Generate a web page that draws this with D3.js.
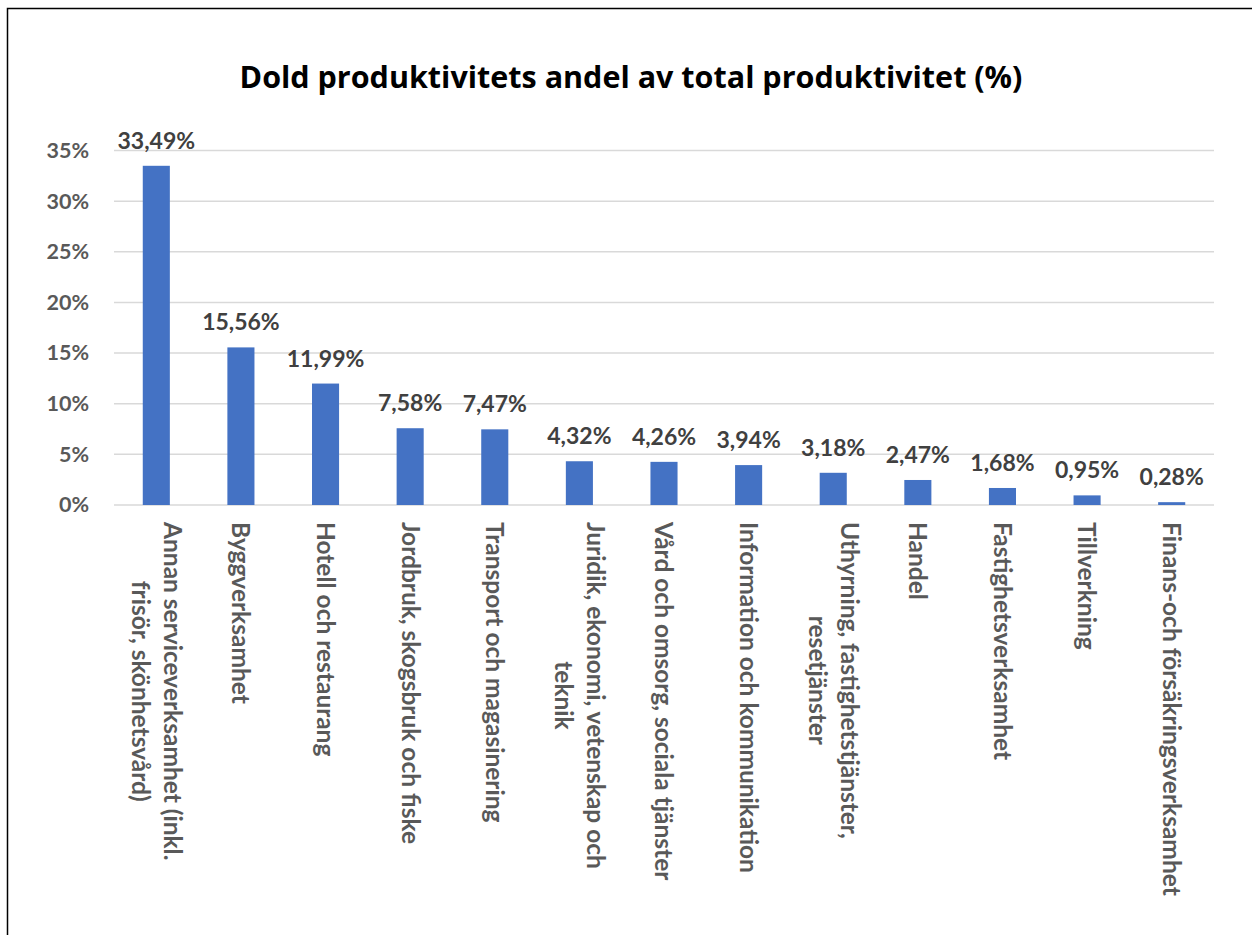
<!DOCTYPE html>
<html>
<head>
<meta charset="utf-8">
<script src="https://cdn.jsdelivr.net/npm/d3@7"></script>
<style>
  html, body { margin: 0; padding: 0; background: #fff; }
  svg { display: block; }
</style>
</head>
<body>
<script>
const categories = [
  ["Annan serviceverksamhet (inkl.", "frisör, skönhetsvård)"],
  ["Byggverksamhet"],
  ["Hotell och restaurang"],
  ["Jordbruk, skogsbruk och fiske"],
  ["Transport och magasinering"],
  ["Juridik, ekonomi, vetenskap och", "teknik"],
  ["Vård och omsorg, sociala tjänster"],
  ["Information och kommunikation"],
  ["Uthyrning, fastighetstjänster,", "resetjänster"],
  ["Handel"],
  ["Fastighetsverksamhet"],
  ["Tillverkning"],
  ["Finans-och försäkringsverksamhet"]
];
const values = [33.49, 15.56, 11.99, 7.58, 7.47, 4.32, 4.26, 3.94, 3.18, 2.47, 1.68, 0.95, 0.28];
const yTicks = [0, 5, 10, 15, 20, 25, 30, 35];
const title = "Dold produktivitets andel av total produktivitet (%)";

const W = 1252, H = 935;
const svg = d3.select("body").append("svg").attr("width", W).attr("height", H);

// outer chart border (extends past the picture on right and bottom)
svg.append("rect").attr("x", 7.5).attr("y", 8.5).attr("width", 1300).attr("height", 1000)
  .attr("fill", "none").attr("stroke", "#000").attr("stroke-width", 1.5);

const plotL = 114, plotR = 1214, plotT = 150.5, plotB = 505;
const x = d3.scaleBand().domain(d3.range(categories.length)).range([plotL, plotR]).paddingInner(0.68).paddingOuter(0.34);
const y = d3.scaleLinear().domain([0, 35]).range([plotB, plotT]);

// title
svg.append("text").attr("x", 631).attr("y", 88).attr("text-anchor", "middle")
  .style("font-family", "'Open Sans', sans-serif").style("font-weight", 700).style("font-size", "30.5px")
  .attr("fill", "#000").text(title);

// gridlines
svg.append("g").selectAll("line").data(yTicks).join("line")
  .attr("x1", plotL).attr("x2", plotR)
  .attr("y1", d => y(d)).attr("y2", d => y(d))
  .attr("stroke", "#d9d9d9").attr("stroke-width", 1.5);

// y axis labels
const yAxis = d3.axisLeft(y).tickValues(yTicks).tickFormat(d => d + "%").tickSize(0).tickPadding(0);
const yg = svg.append("g").attr("transform", `translate(89,0)`).call(yAxis);
yg.select(".domain").remove();
yg.selectAll("text").style("font-family", "Lato, sans-serif").style("font-weight", 700)
  .style("font-size", "21.5px").attr("fill", "#595959");

// bars
svg.append("g").selectAll("rect").data(values).join("rect")
  .attr("x", (d, i) => x(i)).attr("width", x.bandwidth())
  .attr("y", d => y(d)).attr("height", d => plotB - y(d))
  .attr("fill", "#4472c4");

// data labels
svg.append("g").selectAll("text").data(values).join("text")
  .attr("x", (d, i) => x(i) + x.bandwidth() / 2)
  .attr("y", d => y(d) - 17)
  .attr("text-anchor", "middle")
  .style("font-family", "Lato, sans-serif").style("font-weight", 700).style("font-size", "23px")
  .attr("fill", "#404040")
  .text(d => d.toFixed(2).replace(".", ",") + "%");

// category labels rotated 90deg
const lineGap = 32;
const lab = svg.append("g").selectAll("g").data(categories).join("g")
  .attr("transform", (d, i) => `translate(${x(i) + x.bandwidth() / 2},522) rotate(90)`);
lab.each(function(lines) {
  const g = d3.select(this);
  const n = lines.length;
  const texts = lines.map((t, k) => g.append("text")
    .attr("y", (k - (n - 1) / 2) * lineGap)
    .attr("dy", "0.35em")
    .style("font-family", "Lato, sans-serif").style("font-weight", 700).style("font-size", "24.5px")
    .attr("fill", "#595959").text(t));
  const lens = texts.map(t => t.node().getComputedTextLength());
  const maxL = d3.max(lens);
  texts.forEach((t, k) => t.attr("x", (maxL - lens[k]) / 2));
});
</script>
</body>
</html>
